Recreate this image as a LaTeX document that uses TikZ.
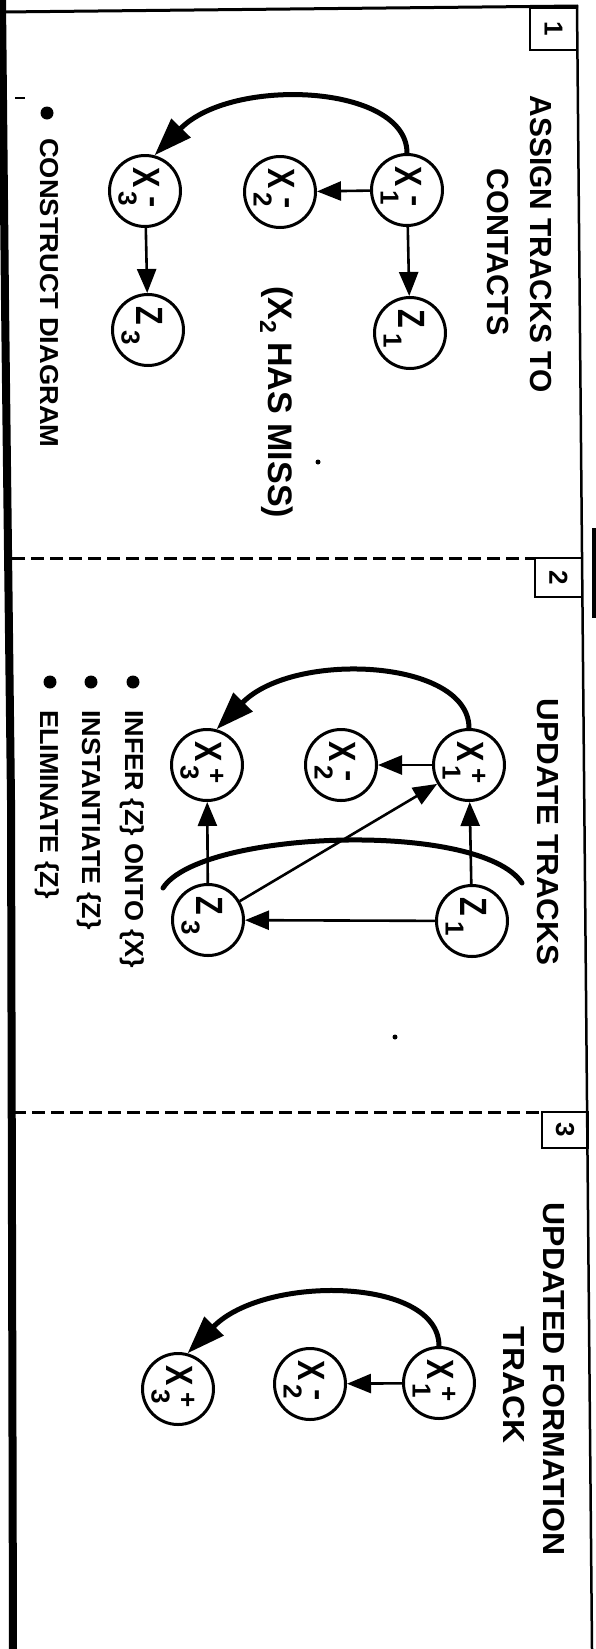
\documentclass[tikz,border=0pt]{standalone}
\usepackage{fontspec}
\setmainfont{Liberation Sans}
\usepackage{graphicx}
\usetikzlibrary{arrows.meta}

\newcommand{\putat}[3]{\makebox[0pt][l]{\hspace*{#1}\raisebox{#2}[0pt][0pt]{#3}}}
\newcommand{\bigXf}{\fontsize{38}{38}\selectfont\bfseries}
\newcommand{\smXf}{\fontsize{26}{26}\selectfont\bfseries}
\newcommand{\tkplus}{\putat{3.4pt}{1pt}{\smXf +}}
\newcommand{\tkminus}{\putat{5.3pt}{-1.5pt}{\fontsize{34}{34}\selectfont\bfseries -}}
\newcommand{\nlab}[3]{\rotatebox{-90}{\putat{-24pt}{-11.6pt}{\bigXf\scalebox{0.8}[1]{#1}}\putat{0.8pt}{-26.3pt}{\smXf #2}#3}}

\tikzset{
  tnode/.style={circle, draw, line width=3pt, minimum size=71pt, inner sep=0pt},
  link/.style={line width=2.6pt, -{Triangle[length=24pt,width=19pt]}},
  track/.style={line width=5pt, -{Triangle[length=38pt,width=26pt]}},
  ttl/.style={rotate=-90, anchor=base, inner sep=0pt, font=\fontsize{30.5}{30.5}\selectfont\bfseries},
  btxt/.style={rotate=-90, anchor=base west, inner sep=0pt, font=\fontsize{26}{26}\selectfont\bfseries},
  bul/.style={circle, fill, minimum size=13pt, inner sep=0pt},
  numbox/.style={draw, line width=2.5pt},
  boxnum/.style={rotate=-90, inner sep=0pt, font=\fontsize{26}{26}\selectfont\bfseries},
  dashline/.style={line width=3pt, dash pattern=on 13pt off 6pt},
  frame/.style={line width=3pt}
}

\begin{document}
\begin{tikzpicture}[x=1pt,y=-1pt]
\useasboundingbox (0,0) rectangle (596,1649);
\fill[white] (0,0) rectangle (596,1649);

% frame
\draw[line width=8pt] (2,0) -- (5,300) -- (11,800) -- (13,1649);
\draw[frame] (2,12) -- (578,6);
\draw[line width=2.5pt] (577,5) -- (592,1649);
\draw[line width=5pt] (594,528) -- (594,618);
\draw[dashline] (12,558) -- (535,558);
\draw[dashline] (13,1112) -- (542,1112);

% number boxes
\draw[numbox] (530,8) rectangle (577,50);
\node[boxnum] (n1) at (553.5,29) {1};
\draw[numbox] (535,558) rectangle (582,597);
\node[boxnum] (n2) at (558.5,577.5) {2};
\draw[numbox] (542,1112) rectangle (588,1148);
\node[boxnum] (n3) at (565,1130) {3};

% ---------- panel 1 ----------
\node[ttl] (t1a) at (530,244) {\scalebox{0.98}[1]{ASSIGN TRACKS TO}};
\node[ttl] (t1b) at (487,252) {CONTACTS};

\node[tnode] (ax1) at (407,190) {\nlab{X}{1}{\tkminus}};
\node[tnode] (ax2) at (280,192) {\nlab{X}{2}{\tkminus}};
\node[tnode] (ax3) at (145,191) {\nlab{X}{3}{\tkminus}};
\node[tnode] (az1) at (410,333) {\nlab{Z}{1}{}};
\node[tnode] (az3) at (148,330) {\nlab{Z}{3}{}};

\draw[link] (ax1) -- (az1);
\draw[link] (ax1) -- (ax2);
\draw[link] (ax3) -- (az3);
\draw[track] (ax1.north) .. controls +(0,-69) and +(77,-79) .. (ax3.75);

\node[btxt, font=\fontsize{34}{34}\selectfont\bfseries] (miss) at (268,286)
  {(X\raisebox{-8pt}{\fontsize{23}{23}\selectfont 2} HAS MISS)};

\node[bul] (b1) at (47,113) {};
\node[btxt] (c1) at (40,138) {\scalebox{1.05}[1]{CONSTRUCT DIAGRAM}};

\draw[line width=1.5pt] (15,98) -- (25,98);
\fill (318,462) circle (2.5);

% ---------- panel 2 ----------
\node[ttl] (t2a) at (537,832) {\scalebox{1.03}[1]{UPDATE TRACKS}};

\node[tnode] (bx1) at (469,765) {\nlab{X}{1}{\tkplus}};
\node[tnode] (bx2) at (341,765) {\nlab{X}{2}{\tkminus}};
\node[tnode] (bx3) at (207,765) {\nlab{X}{3}{\tkplus}};
\node[tnode] (bz1) at (472,921) {\nlab{Z}{1}{}};
\node[tnode] (bz3) at (208,920) {\nlab{Z}{3}{}};

\draw[link] (bz1) -- (bx1);
\draw[link] (bx1) -- (bx2);
\draw[link] (bz1) -- (bz3);
\draw[link] (bz3) -- (bx1);
\draw[link] (bz3) -- (bx3);
\draw[track] (bx1.north) .. controls +(0,-69) and +(77,-79) .. (bx3.75);

\coordinate (brl) at (163,888);
\coordinate (brr) at (522,883);
\draw[line width=5pt, line cap=round] (brl) .. controls (200,830) and (480,820) .. (brr);

\node[bul] (b2a) at (133,682) {};
\node[btxt] (i1) at (125,710) {\scalebox{1.04}[1]{INFER \{Z\} ONTO \{X\}}};
\node[bul] (b2b) at (91,682) {};
\node[btxt] (i2) at (82,710) {\scalebox{1.04}[1]{INSTANTIATE \{Z\}}};
\node[bul] (b2c) at (50,682) {};
\node[btxt] (i3) at (40,710) {\scalebox{1.04}[1]{ELIMINATE \{Z\}}};

\fill (395,1037) circle (2.5);

% ---------- panel 3 ----------
\node[ttl] (t3a) at (543,1379) {\scalebox{1.05}[1]{UPDATED FORMATION}};
\node[ttl] (t3b) at (503,1385) {\scalebox{1.09}[1]{TRACK}};

\node[tnode] (cx1) at (439,1383) {\nlab{X}{1}{\tkplus}};
\node[tnode] (cx2) at (310,1384) {\nlab{X}{2}{\tkminus}};
\node[tnode] (cx3) at (178,1389) {\nlab{X}{3}{\tkplus}};

\draw[link] (cx1) -- (cx2);
\draw[track] (cx1.north) .. controls +(0,-69) and +(77,-79) .. (cx3.75);

\end{tikzpicture}
\end{document}
